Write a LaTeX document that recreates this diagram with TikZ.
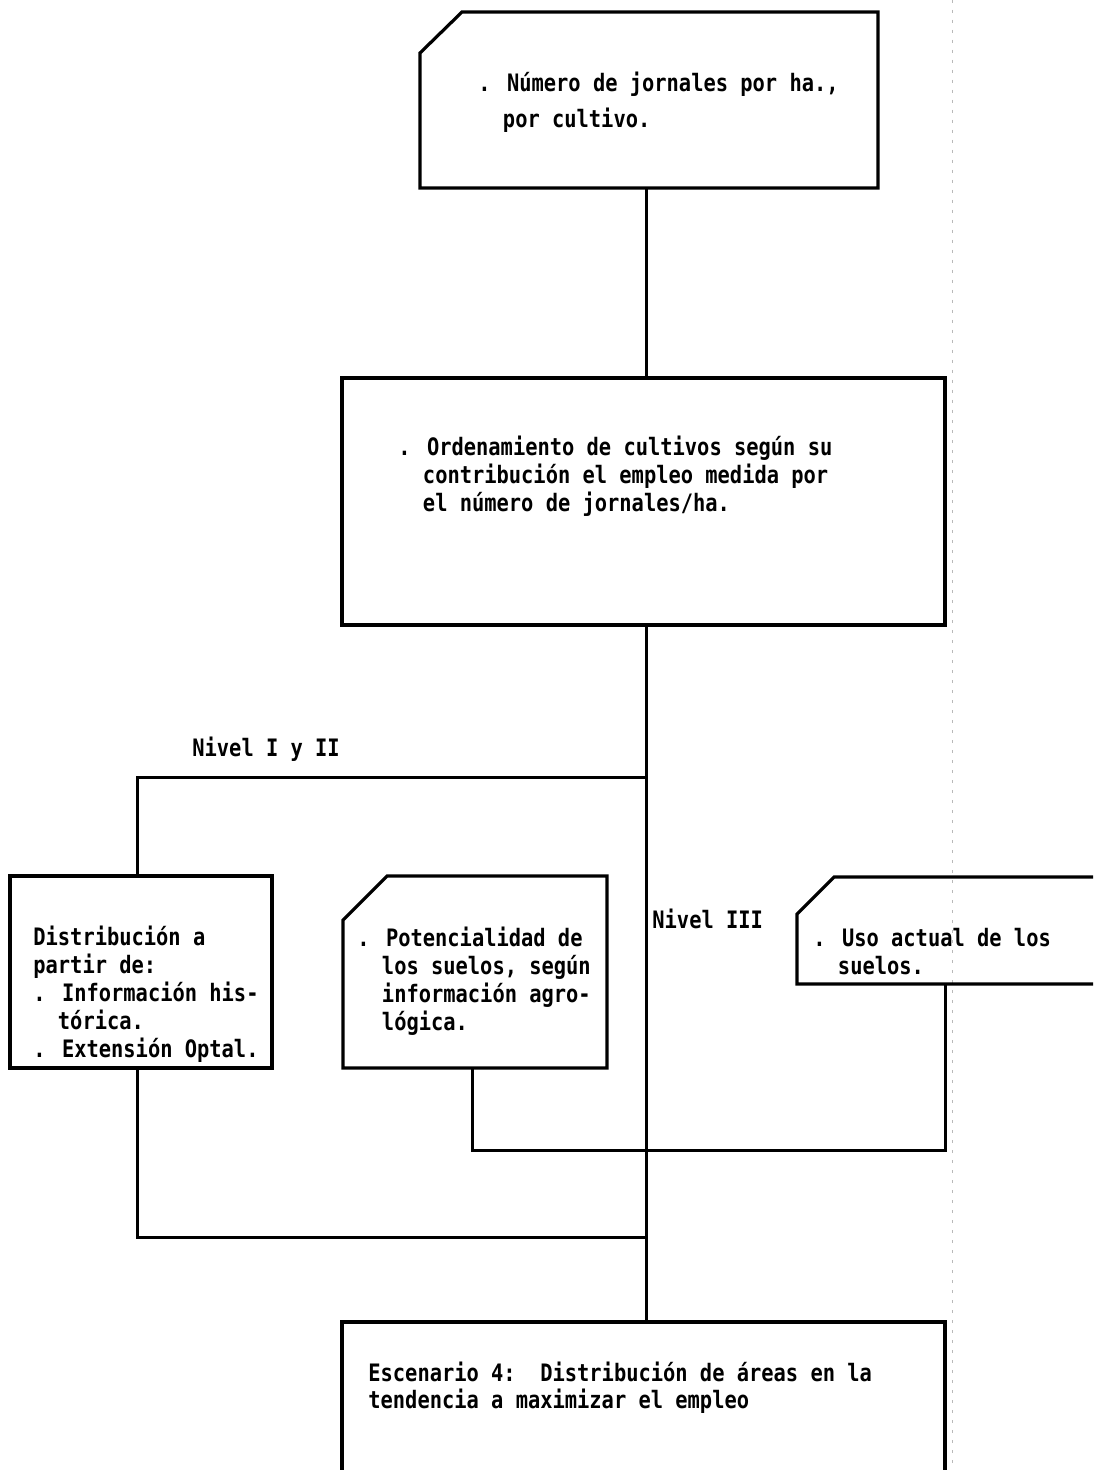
\documentclass[tikz,border=0pt]{standalone}
\usepackage{fontspec}
\usetikzlibrary{fit,calc}
% typewriter-like face for all the texts of the chart
\newfontfamily\printfont[FakeStretch=0.85]{DejaVu Sans Mono}
% two character widths, for the hanging indent after ". "
\newcommand\ind{\hphantom{xx}}

\tikzset{
  ghost/.style={inner sep=0pt, outer sep=0pt},
  box/.style={draw, line width=1.6pt, line join=miter},
  wire/.style={line width=1.5pt},
  txt/.style={anchor=base west, inner sep=0pt, align=left,
    font=\printfont\bfseries\fontsize{12}{14}\selectfont},
}

\begin{document}
\begin{tikzpicture}[x=0.5pt,y=-0.5pt]
\useasboundingbox (0,0) rectangle (1093,1470);
\fill[white] (0,0) rectangle (1093,1470);
\clip (0,0) rectangle (1093,1470);

% faint fold mark running down the sheet
\draw[gray!55, line width=0.5pt, dash pattern=on 1.5pt off 3.5pt] (952,0) -- (952,1470);

% ---- box outlines (named frames) ----
\node[ghost, fit={(420,12) (878,188)}] (b1) {};
\draw[box] (b1.north east) -- ($(b1.north west)+(42,0)$) -- ($(b1.north west)+(0,41)$)
  -- (b1.south west) -- (b1.south east) -- cycle;

\node[ghost, fit={(342,378) (945,625)}] (b2) {};
\draw[box] (b2.north west) rectangle (b2.south east);

\node[ghost, fit={(10,876) (272,1068)}] (dist) {};
\draw[box] (dist.north west) rectangle (dist.south east);

\node[ghost, fit={(343,876) (607,1068)}] (pot) {};
\draw[box] (pot.north east) -- ($(pot.north west)+(44,0)$) -- ($(pot.north west)+(0,44)$)
  -- (pot.south west) -- (pot.south east) -- cycle;

\node[ghost, fit={(797,877) (1130,984)}] (uso) {};
\draw[box] (uso.north east) -- ($(uso.north west)+(37,0)$) -- ($(uso.north west)+(0,37)$)
  -- (uso.south west) -- (uso.south east);

\node[ghost, fit={(342,1322) (945,1530)}] (b4) {};
\draw[box] (b4.south west) -- (b4.north west) -- (b4.north east) -- (b4.south east);

% ---- texts (anchored on the baseline of the last line) ----
\node[txt, font=\printfont\bfseries\fontsize{12}{18}\selectfont] (t1) at (478,128)
  {. Número de jornales por ha.,\\\ind por cultivo.};
\node[txt] (t2) at (398,511)
  {. Ordenamiento de cultivos según su\\\ind contribución el empleo medida por\\\ind el número de jornales/ha.};
\node[txt] (t3) at (33,1057)
  {Distribución a\\partir de:\\. Información his-\\\ind tórica.\\. Extensión Optal.};
\node[txt] (t4) at (357,1030)
  {. Potencialidad de\\\ind los suelos, según\\\ind información agro-\\\ind lógica.};
\node[txt] (t5) at (813,974)
  {. Uso actual de los\\\ind suelos.};
\node[txt, font=\printfont\bfseries\fontsize{12}{13.5}\selectfont] (t6) at (368,1408)
  {Escenario 4:\ \ Distribución de áreas en la\\tendencia a maximizar el empleo};

\node[txt] (n12) at (192,756) {Nivel I y II};
\node[txt] (n3) at (652,928) {Nivel III};

% ---- connectors ----
\coordinate (spine) at (646,0);
\coordinate (j1) at (646,777);
\coordinate (j2) at (945,1150);
\coordinate (j3) at (646,1237);

\draw[wire] (b1.south -| spine) -- (b2.north -| spine);
\draw[wire] (b2.south -| spine) -- (b4.north -| spine);
\draw[wire] (j1) -| ([xshift=-2pt]dist.north);
\draw[wire] ([xshift=-2pt]dist.south) |- (j3);
\draw[wire] ([xshift=-1.5pt]pot.south) |- (j2) -- (uso.south -| j2);
\end{tikzpicture}
\end{document}
